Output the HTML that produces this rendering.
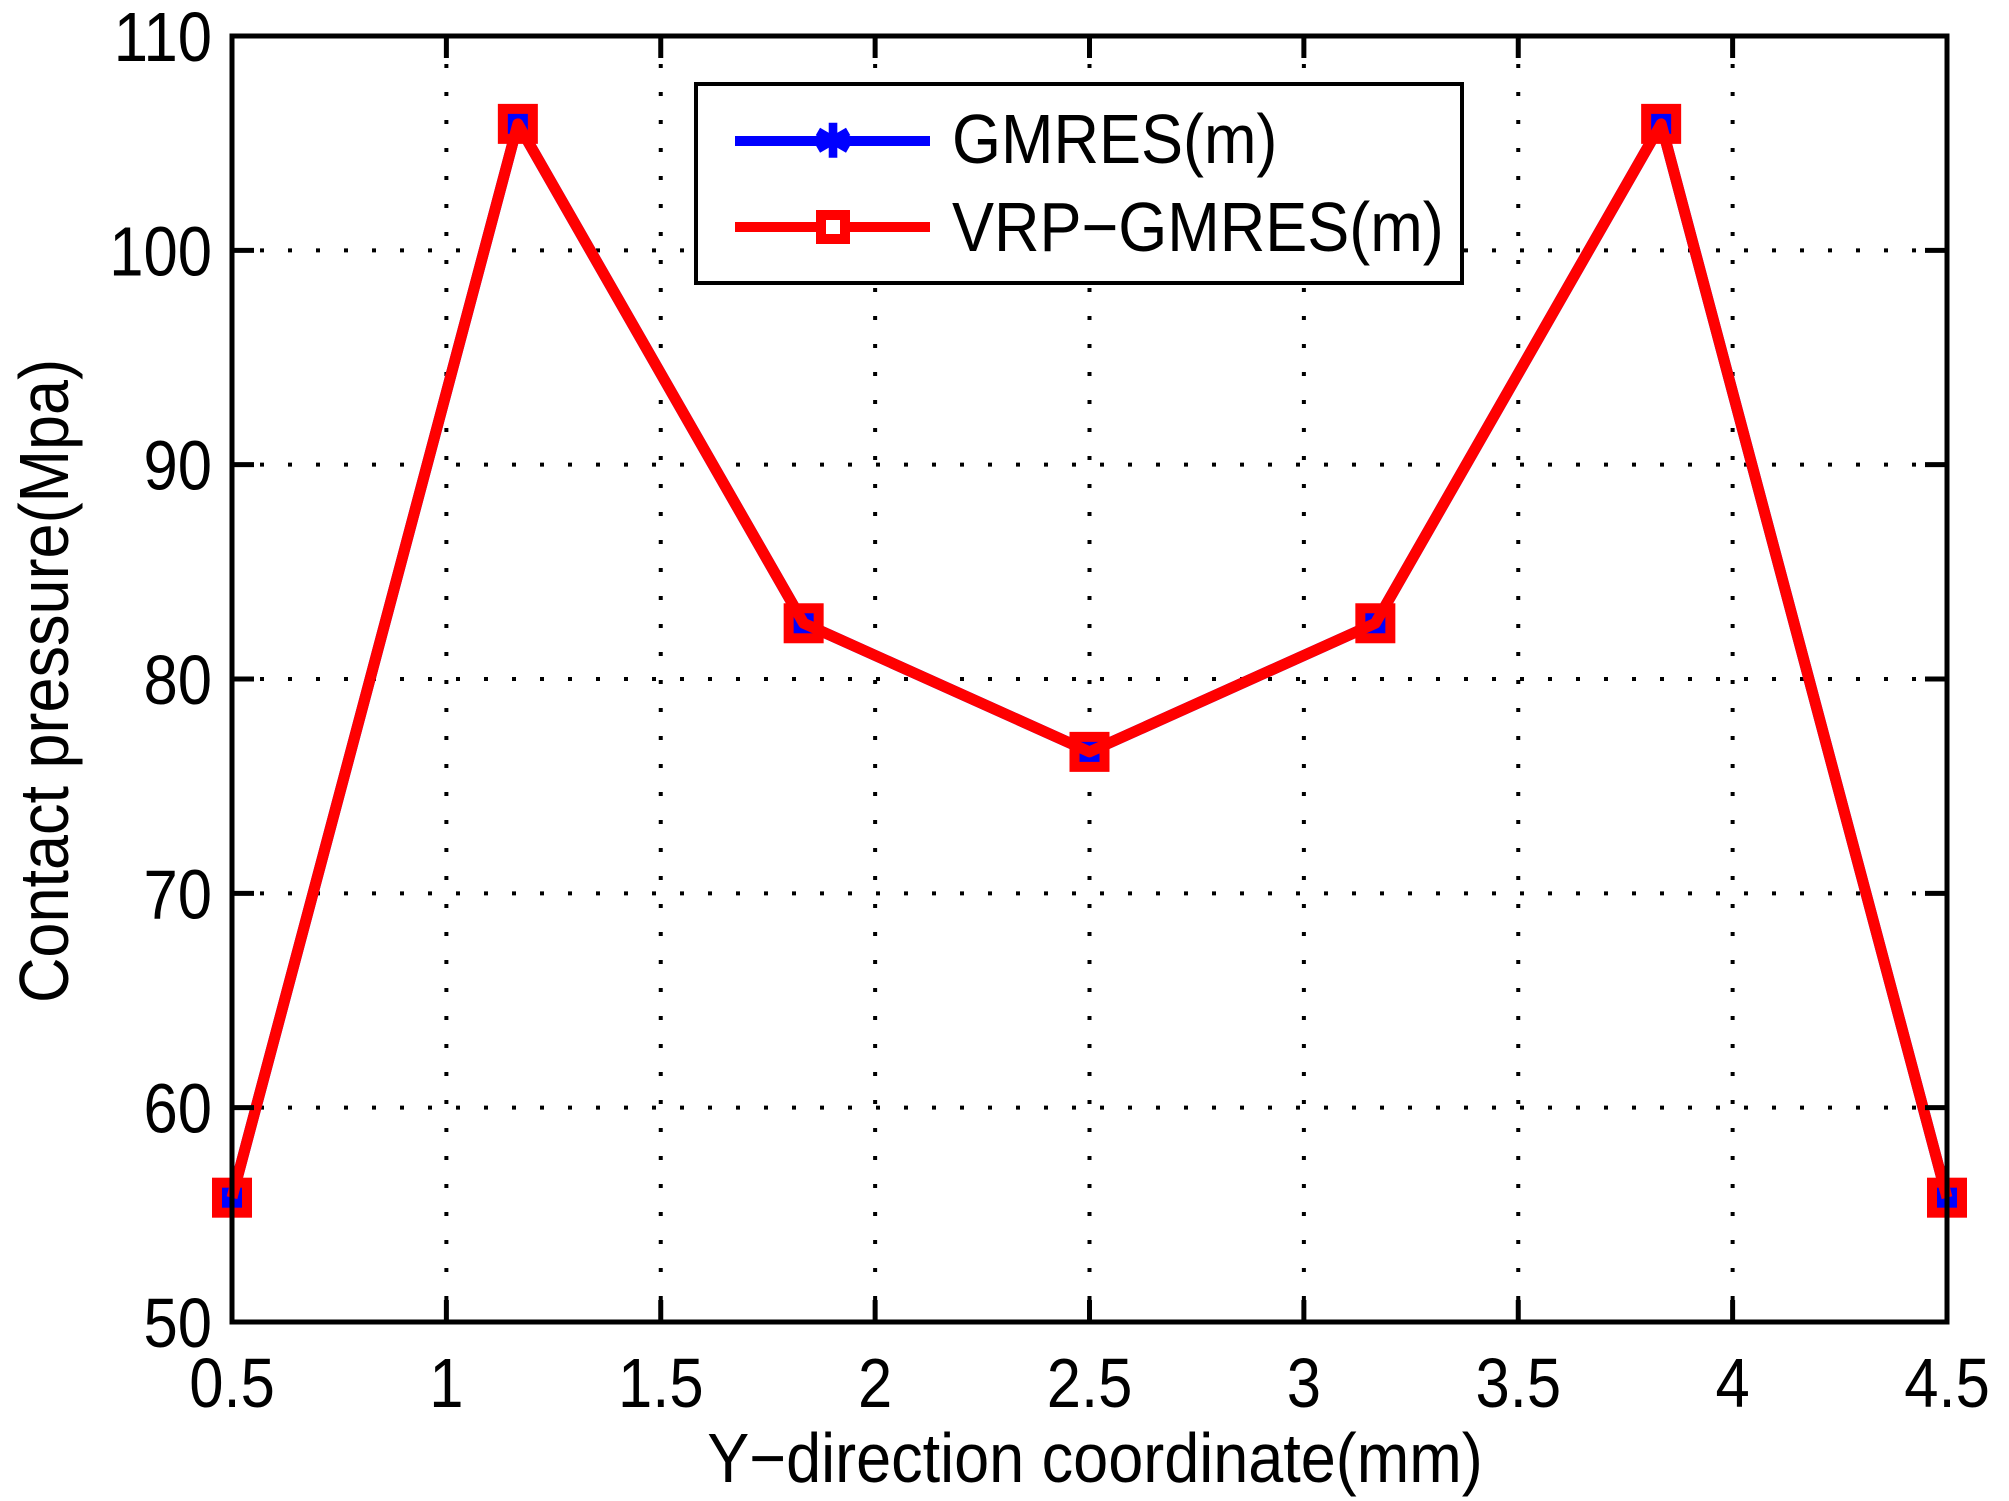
<!DOCTYPE html>
<html><head><meta charset="utf-8"><style>
html,body{margin:0;padding:0;background:#fff;}
svg{display:block;font-family:"Liberation Sans",Arial,sans-serif;}
</style></head><body>
<svg id="chart" width="2009" height="1501" viewBox="0 0 2009 1501" xmlns="http://www.w3.org/2000/svg">
<rect width="2009" height="1501" fill="#fff"/>
<g id="grid"></g>
<g id="series"></g>
<g id="axes"></g>
<text transform="translate(1095,1482) scale(0.9,1)" font-size="70" text-anchor="middle">Y−direction coordinate(mm)</text>
<text transform="translate(68,681) rotate(-90) scale(0.9,1)" font-size="70" text-anchor="middle">Contact pressure(Mpa)</text>
<g>
<rect x="696" y="84" width="766" height="199" fill="#fff" stroke="#000" stroke-width="4"/>
<g>
<line x1="735" y1="141" x2="930" y2="141" stroke="#0000ff" stroke-width="10"/>
<text x="833" y="141" font-size="46" font-weight="bold" fill="#0000ff" text-anchor="middle" dominant-baseline="central">✱</text>
<text transform="translate(952,163) scale(0.9,1)" font-size="70">GMRES(m)</text>
</g>
<g>
<line x1="735" y1="227" x2="930" y2="227" stroke="#ff0000" stroke-width="10"/>
<rect x="821" y="215" width="24" height="24" fill="#fff" stroke="#ff0000" stroke-width="10"/>
<text transform="translate(952,251) scale(0.9,1)" font-size="70">VRP−GMRES(m)</text>
</g>
</g>
</svg>
<script>
const xValues = [0.5, 1.1667, 1.8333, 2.5, 3.1667, 3.8333, 4.5];
const gmresValues = [55.8, 105.9, 82.6, 76.6, 82.6, 105.9, 55.8];
const vrpValues = [55.8, 105.9, 82.6, 76.6, 82.6, 105.9, 55.8];
const xTicks = [0.5, 1, 1.5, 2, 2.5, 3, 3.5, 4, 4.5];
const xTickLabels = ["0.5","1","1.5","2","2.5","3","3.5","4","4.5"];
const yTicks = [50, 60, 70, 80, 90, 100, 110];
const yTickLabels = ["50","60","70","80","90","100","110"];

const L=232,R=1947,T=36,B=1322,XMIN=0.5,XMAX=4.5,YMIN=50,YMAX=110;
const sx=v=>L+(v-XMIN)/(XMAX-XMIN)*(R-L);
const sy=v=>B-(v-YMIN)/(YMAX-YMIN)*(B-T);
const NS="http://www.w3.org/2000/svg";
function mk(tag,attrs,parent){const e=document.createElementNS(NS,tag);for(const k in attrs)e.setAttribute(k,attrs[k]);parent.appendChild(e);return e;}
const grid=document.getElementById('grid'),axes=document.getElementById('axes'),series=document.getElementById('series');

xTicks.forEach((t,i)=>{
  const x=sx(t);
  if(i>0&&i<xTicks.length-1){
    const g=mk('line',{x1:x,y1:T,x2:x,y2:B,stroke:'#000','stroke-width':4,'stroke-dasharray':'4 24'},grid);
    
    
  }
  mk('line',{x1:x,y1:B,x2:x,y2:B-22,stroke:'#000','stroke-width':5},axes);
  mk('line',{x1:x,y1:T,x2:x,y2:T+22,stroke:'#000','stroke-width':5},axes);
  const lb=mk('text',{transform:'translate('+x+',1407) scale(0.88,1)','font-size':70,'text-anchor':'middle'},axes);
  lb.textContent=xTickLabels[i];
  
  
});
yTicks.forEach((t,i)=>{
  const y=sy(t);
  if(i>0&&i<yTicks.length-1){
    const g=mk('line',{x1:L,y1:y,x2:R,y2:y,stroke:'#000','stroke-width':4,'stroke-dasharray':'4 24'},grid);
    
    
  }
  mk('line',{x1:L,y1:y,x2:L+22,y2:y,stroke:'#000','stroke-width':5},axes);
  mk('line',{x1:R,y1:y,x2:R-22,y2:y,stroke:'#000','stroke-width':5},axes);
  const lb=mk('text',{transform:'translate(212,'+(y+25)+') scale(0.88,1)','font-size':70,'text-anchor':'end'},axes);
  lb.textContent=yTickLabels[i];
  
  
});
const frame=mk('rect',{x:L,y:T,width:R-L,height:B-T,fill:'none',stroke:'#000','stroke-width':5},axes);



const bl=mk('polyline',{points:xValues.map((x,i)=>sx(x)+','+sy(gmresValues[i])).join(' '),fill:'none',stroke:'#0000ff','stroke-width':11,'stroke-linejoin':'round'},series);


xValues.forEach((x,i)=>{
  const m=mk('rect',{x:sx(x)-12,y:sy(gmresValues[i])-12,width:24,height:24,fill:'#0000ff'},series);
  
  
});
const rl=mk('polyline',{points:xValues.map((x,i)=>sx(x)+','+sy(vrpValues[i])).join(' '),fill:'none',stroke:'#ff0000','stroke-width':11,'stroke-linejoin':'round'},series);


xValues.forEach((x,i)=>{
  const m=mk('rect',{x:sx(x)-15,y:sy(vrpValues[i])-15,width:30,height:30,fill:'none',stroke:'#ff0000','stroke-width':10},series);
  
  
});
</script>
</body></html>
